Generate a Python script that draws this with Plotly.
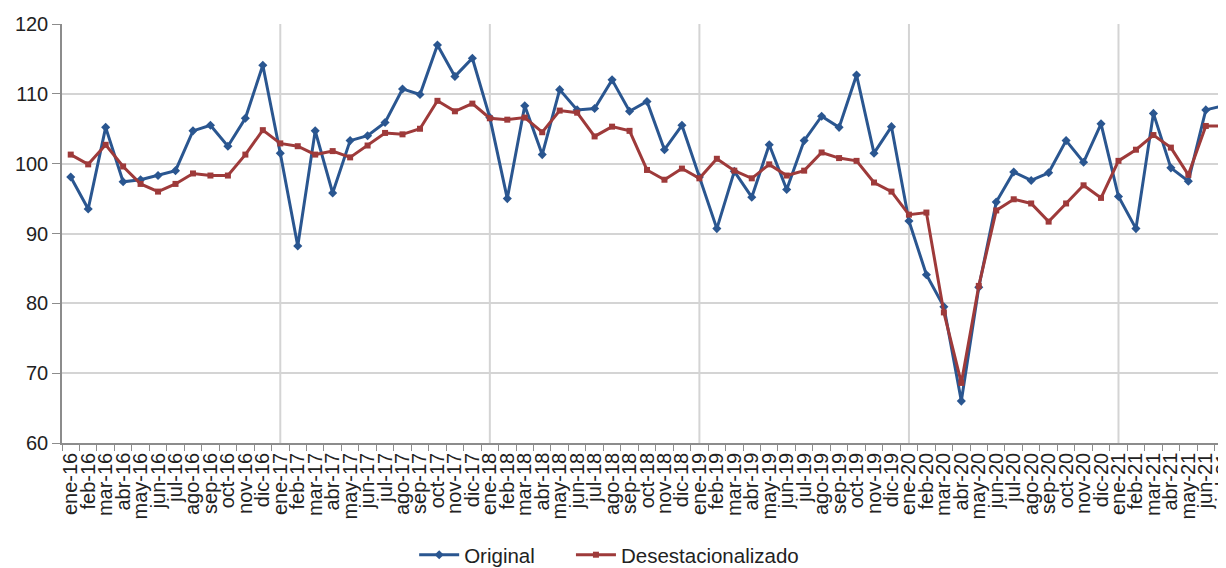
import plotly.graph_objects as go

months = ["ene", "feb", "mar", "abr", "may", "jun", "jul", "ago", "sep", "oct", "nov", "dic"]
labels = [f"{m}-{y}" for y in ["16", "17", "18", "19", "20", "21"] for m in months][:67]

original = [
    98.1, 93.5, 105.2, 97.4, 97.7, 98.3, 99.0, 104.7, 105.5, 102.5, 106.5, 114.1,
    101.5, 88.2, 104.7, 95.8, 103.3, 104.0, 105.9, 110.7, 109.9, 117.0, 112.5, 115.1,
    106.6, 95.0, 108.3, 101.3, 110.6, 107.7, 107.9, 112.0, 107.5, 108.9, 102.0, 105.5,
    98.1, 90.7, 98.9, 95.2, 102.7, 96.3, 103.3, 106.8, 105.2, 112.7, 101.5, 105.3,
    91.8, 84.1, 79.5, 66.0, 82.3, 94.5, 98.8, 97.6, 98.7, 103.3, 100.2, 105.7,
    95.3, 90.7, 107.2, 99.4, 97.5, 107.7, 108.3,
]
desestacionalizado = [
    101.3, 99.9, 102.7, 99.6, 97.1, 96.0, 97.1, 98.6, 98.3, 98.3, 101.3, 104.8,
    102.9, 102.5, 101.3, 101.8, 100.9, 102.6, 104.4, 104.2, 105.0, 109.0, 107.5, 108.6,
    106.5, 106.3, 106.6, 104.5, 107.6, 107.3, 103.9, 105.3, 104.7, 99.1, 97.7, 99.3,
    97.9, 100.7, 99.0, 97.9, 99.9, 98.3, 99.0, 101.6, 100.8, 100.4, 97.3, 96.0,
    92.7, 93.0, 78.7, 68.6, 82.5, 93.3, 94.9, 94.3, 91.7, 94.3, 96.9, 95.1,
    100.4, 102.0, 104.1, 102.3, 98.4, 105.4, 105.4,
]
y_ticks = [60, 70, 80, 90, 100, 110, 120]

x = list(range(len(labels)))
font_family = "Liberation Sans, Arial, sans-serif"

fig = go.Figure()
fig.add_trace(go.Scatter(
    x=x, y=original, name="Original", mode="lines+markers",
    line=dict(color="#2a5690", width=3),
    marker=dict(symbol="diamond", size=7, color="#2a5690"),
    legend="legend",
))
fig.add_trace(go.Scatter(
    x=x, y=desestacionalizado, name="Desestacionalizado", mode="lines+markers",
    line=dict(color="#9e3a3a", width=3),
    marker=dict(symbol="square", size=6, color="#9e3a3a"),
    legend="legend2",
))

for i in x:
    if i > 0 and labels[i].startswith("ene"):
        fig.add_shape(type="line", xref="x", yref="paper", x0=i, x1=i, y0=0, y1=1,
                      line=dict(color="#d4d4d4", width=2), layer="below")

legend_common = dict(orientation="h", xanchor="left", y=-0.264, yanchor="middle",
                     font=dict(size=20.5, family=font_family, color="#222"),
                     itemwidth=40, bgcolor="rgba(0,0,0,0)")

fig.update_layout(
    width=1226, height=568,
    margin=dict(l=54, r=2, t=16, b=132),
    paper_bgcolor="white", plot_bgcolor="white",
    font=dict(family=font_family, color="#222"),
    showlegend=True,
    legend=dict(x=0.301, **legend_common),
    legend2=dict(x=0.435, **legend_common),
)
fig.update_xaxes(
    range=[-0.5, 66.5], automargin=False,
    tickmode="array", tickvals=x, ticktext=labels, tickangle=-90,
    tickfont=dict(size=20, family=font_family, color="#222"),
    ticks="", showgrid=False, zeroline=False,
    showline=True, linecolor="#8c8c8c", linewidth=1.5,
    minor=dict(tickmode="linear", tick0=-0.5, dtick=1, ticks="outside",
               ticklen=6, tickcolor="#8c8c8c", tickwidth=1, showgrid=False),
)
fig.update_yaxes(
    range=[60, 120], automargin=False, tickmode="array", tickvals=y_ticks,
    tickfont=dict(size=20, family=font_family, color="#222"),
    ticks="outside", ticklen=8, tickcolor="#8c8c8c",
    showgrid=True, gridcolor="#d4d4d4", gridwidth=2,
    zeroline=False, showline=True, linecolor="#8c8c8c", linewidth=1.5,
)

fig.write_html("out.html")
